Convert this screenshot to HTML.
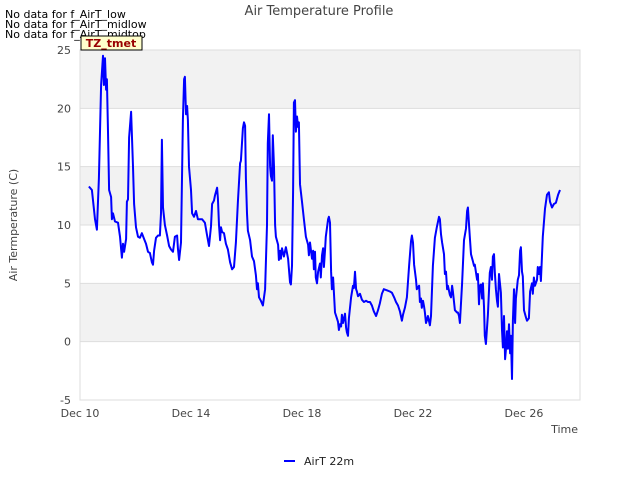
<!DOCTYPE html>
<html><head><meta charset="utf-8"><style>
body{margin:0;background:#fff;width:640px;height:480px;overflow:hidden;font-family:"DejaVu Sans","Liberation Sans",sans-serif}
svg text{font-family:"DejaVu Sans","Liberation Sans",sans-serif}
</style></head><body>
<svg id="chart" width="640" height="480" xmlns="http://www.w3.org/2000/svg">
<text x="319" y="15" text-anchor="middle" font-size="13" fill="#444">Air Temperature Profile</text>
<g font-size="11" fill="#000">
<text x="5" y="18">No data for f_AirT_low</text>
<text x="5" y="28">No data for f_AirT_midlow</text>
<text x="5" y="38">No data for f_AirT_midtop</text>
</g>
<g id="plot"></g>
<g>
<rect x="81" y="36" width="61" height="14" fill="#ffffcc" stroke="#000" stroke-width="1"/>
<text x="111" y="47" text-anchor="middle" font-size="11" font-weight="bold" fill="#990000">TZ_tmet</text>
</g>
<text transform="translate(17,225) rotate(-90)" text-anchor="middle" font-size="11" fill="#444">Air Termperature (C)</text>
<text x="578" y="433" text-anchor="end" font-size="11" fill="#444">Time</text>
<g>
<line x1="284" y1="461" x2="295" y2="461" stroke="#0000ff" stroke-width="2"/>
<text x="304" y="465" font-size="11" fill="#222">AirT 22m</text>
</g>
</svg>
<script>
const days=[0.32,0.43,0.54,0.61,0.68,0.76,0.83,0.86,0.90,0.94,0.97,1.01,1.05,1.12,1.15,1.19,1.26,1.37,1.44,1.51,1.55,1.59,1.66,1.69,1.73,1.77,1.84,1.91,1.95,2.02,2.09,2.16,2.23,2.31,2.38,2.45,2.52,2.59,2.63,2.67,2.74,2.81,2.88,2.92,2.95,2.99,3.06,3.14,3.21,3.28,3.35,3.42,3.50,3.53,3.57,3.64,3.71,3.75,3.78,3.82,3.86,3.89,3.93,4.00,4.04,4.11,4.18,4.25,4.32,4.40,4.50,4.58,4.65,4.72,4.76,4.83,4.86,4.94,4.97,5.01,5.05,5.08,5.12,5.19,5.26,5.33,5.41,5.48,5.55,5.62,5.69,5.77,5.80,5.87,5.91,5.95,5.98,6.02,6.05,6.13,6.20,6.27,6.34,6.38,6.41,6.45,6.52,6.59,6.67,6.74,6.77,6.81,6.85,6.88,6.92,6.95,6.99,7.03,7.06,7.14,7.17,7.21,7.24,7.28,7.35,7.42,7.50,7.57,7.60,7.64,7.68,7.71,7.75,7.78,7.82,7.86,7.89,7.93,8.00,8.07,8.14,8.22,8.25,8.29,8.36,8.40,8.43,8.47,8.50,8.54,8.58,8.65,8.68,8.72,8.76,8.79,8.83,8.86,8.94,8.97,9.01,9.05,9.08,9.12,9.19,9.26,9.30,9.33,9.37,9.41,9.44,9.48,9.55,9.59,9.62,9.66,9.69,9.77,9.84,9.87,9.91,9.95,9.98,10.02,10.09,10.16,10.23,10.31,10.38,10.45,10.52,10.59,10.67,10.74,10.81,10.88,10.95,11.06,11.17,11.24,11.32,11.39,11.46,11.53,11.60,11.64,11.71,11.78,11.86,11.93,11.96,12.00,12.04,12.11,12.14,12.22,12.25,12.29,12.32,12.36,12.40,12.43,12.47,12.50,12.54,12.61,12.65,12.72,12.79,12.86,12.94,12.97,13.01,13.05,13.12,13.15,13.19,13.23,13.26,13.33,13.37,13.41,13.44,13.51,13.59,13.62,13.66,13.69,13.77,13.84,13.91,13.95,13.98,14.05,14.09,14.16,14.20,14.23,14.31,14.34,14.38,14.41,14.45,14.49,14.52,14.56,14.59,14.63,14.70,14.77,14.81,14.85,14.88,14.92,14.95,14.99,15.03,15.06,15.10,15.17,15.21,15.24,15.28,15.32,15.35,15.39,15.42,15.46,15.50,15.53,15.57,15.60,15.64,15.68,15.71,15.78,15.82,15.86,15.89,15.93,15.96,16.00,16.07,16.11,16.18,16.22,16.29,16.32,16.36,16.40,16.47,16.50,16.54,16.58,16.61,16.68,16.76,16.83,16.90,16.94,17.01,17.08,17.15,17.23,17.30];
const temps=[13.3,13,10.5,9.6,14,22,24.5,22,24.3,21.6,22.5,18,13,12.4,10.5,11,10.3,10.2,9,7.2,8.4,7.7,8.8,12,12.2,17.5,19.7,15,11.8,9.8,9,8.9,9.3,8.8,8.4,7.7,7.6,6.8,6.6,7.8,8.9,9.1,9.1,11,17.3,11.5,10,9.1,8.2,7.9,7.7,9,9.1,8,7,8.5,19,22.5,22.7,19.5,20.2,19,15,13,11,10.7,11.2,10.5,10.5,10.5,10.2,9.1,8.2,9.9,11.8,12.1,12.5,13.2,12.3,10,8.7,9.8,9.4,9.3,8.4,7.9,6.8,6.2,6.4,8.5,12,15.3,15.5,18.3,18.8,18.5,14,11,9.5,8.7,7.3,6.9,5.7,4.5,5,3.8,3.5,3.1,4.5,10,17,19.5,15,14.2,13.8,17.7,15,10,9,8.3,7,7.8,7.1,8,7.3,8.1,7.1,5.1,4.9,6.5,13,20.5,20.7,18,19.3,18.4,18.8,13.5,12,10.5,9,8.3,7.4,8.5,7.1,7.8,6.2,7.7,5.5,5,6,6.7,5.5,7.4,8,6.4,7.8,9,10.5,10.7,10.2,6,4.5,5.5,2.5,2,1.7,1,1.5,1.3,2.3,1.6,2.4,1.2,0.8,0.5,2,3.8,4.8,4.6,6,4.5,4.3,3.9,4.1,3.6,3.4,3.5,3.4,3.4,3.1,2.6,2.2,2.7,3.3,4.1,4.5,4.4,4.3,4.2,3.8,3.4,3.1,2.6,1.8,2.3,2.9,3.8,6.5,8.6,9.1,8.5,6.6,5.3,4.5,4.8,3.4,3.7,2.9,3.5,3,2.5,1.6,1.8,2.2,1.4,2.2,6.5,8.9,9.8,10.7,10.5,9.2,8.5,7.5,5.8,6,4.5,4.8,4,3.8,4.8,4.3,2.7,2.5,2.5,2.2,1.6,5,8.7,9.7,11.2,11.5,9,7.5,6.9,6.5,6.6,5.3,5.8,3.2,4.8,4.9,3.7,5,3,0.5,-0.2,2.3,5.9,6.4,5.3,7.3,7.5,6,4.5,3.5,3,5.8,4.2,1,-0.5,2.2,-1.5,-0.7,0.9,-0.6,1.5,-1,0.5,-3.2,1.8,4.5,1.6,3.7,5.3,5.7,7.8,8.1,6,5.6,2.7,2.1,1.8,2,4.3,5,4.1,5.5,4.8,5.3,6.4,5.8,6.4,5.2,9,11.4,12.6,12.8,12,11.5,11.8,11.9,12.6,13];
const yTicks=[-5,0,5,10,15,20,25];
const xTickDays=[0,4,8,12,16];
const xTickLabels=["Dec 10","Dec 14","Dec 18","Dec 22","Dec 26"];
const X0=80,X1=580,Y0=50,Y1=400,DMAX=18.02,VMIN=-5,VMAX=25;
function xs(d){return X0+(d/DMAX)*(X1-X0);}
function ys(v){return Y1-(v-VMIN)/(VMAX-VMIN)*(Y1-Y0);}
const NS="http://www.w3.org/2000/svg";
const plot=document.getElementById('plot');
function mk(t,a){const e=document.createElementNS(NS,t);for(const k in a)e.setAttribute(k,a[k]);plot.appendChild(e);return e;}
for(let i=0;i<yTicks.length-1;i++){
  if(i%2===1)continue;
  const b=mk('rect',{x:X0,y:ys(yTicks[i+1]),width:X1-X0,height:ys(yTicks[i])-ys(yTicks[i+1]),fill:'#ffffff'});
  
  
}
for(let i=0;i<yTicks.length-1;i++){
  if(i%2===0)continue;
  const b=mk('rect',{x:X0,y:ys(yTicks[i+1]),width:X1-X0,height:ys(yTicks[i])-ys(yTicks[i+1]),fill:'#f2f2f2'});
  
  
}
yTicks.forEach(v=>{
  const l=mk('line',{x1:X0,x2:X1,y1:ys(v),y2:ys(v),stroke:'#dddddd','stroke-width':1});
  
  
  const t=mk('text',{x:X0-9,y:ys(v)+4,'text-anchor':'end','font-size':11,fill:'#444'});
  t.textContent=v;
  
  
});
const fr=mk('rect',{x:X0,y:Y0,width:X1-X0,height:Y1-Y0,fill:'none',stroke:'#dddddd'});


xTickDays.forEach((d,i)=>{
  const t=mk('text',{x:xs(d),y:Y1+17,'text-anchor':'middle','font-size':11,fill:'#444'});
  t.textContent=xTickLabels[i];
  
  
});
const pts=days.map((d,i)=>xs(d).toFixed(1)+','+ys(temps[i]).toFixed(1)).join(' ');
const line=mk('polyline',{points:pts,fill:'none',stroke:'#0000ff','stroke-width':2,'stroke-linejoin':'round'});


</script>
</body></html>
